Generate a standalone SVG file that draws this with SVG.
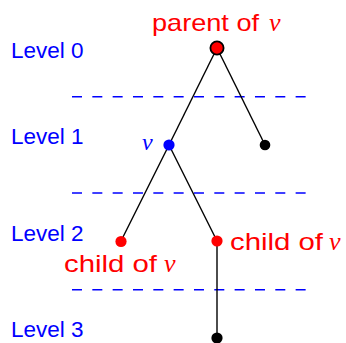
<svg xmlns="http://www.w3.org/2000/svg" width="346" height="343" viewBox="0 0 346 343">
<style>
.lvl{font-family:"Liberation Sans",Arial,sans-serif;font-size:22.5px;fill:#0000ff}
.red{font-family:"Liberation Sans",Arial,sans-serif;font-size:24px;fill:#ff0000}
.mv{font-family:"Liberation Serif","Times New Roman",serif;font-style:italic;font-size:26px}
.edge{stroke:#000;stroke-width:1.4;fill:none}
.dash{stroke:#0000ff;stroke-width:1.5;stroke-dasharray:10 10.33;fill:none}
</style>
<rect width="346" height="343" fill="#fff"/>
<g id="levels">
<line class="dash" x1="72" y1="96.7" x2="307" y2="96.7"/>
<line class="dash" x1="72" y1="193" x2="307" y2="193"/>
<line class="dash" x1="72" y1="289.7" x2="307" y2="289.7"/>
<text class="lvl" x="11" y="57.5">Level 0</text>
<text class="lvl" x="11" y="144">Level 1</text>
<text class="lvl" x="11" y="241">Level 2</text>
<text class="lvl" x="11" y="337">Level 3</text>
</g>
<g id="connectors">
<line class="edge" x1="217" y1="48" x2="169" y2="145"/>
<line class="edge" x1="217" y1="48" x2="265" y2="145"/>
<line class="edge" x1="169" y1="145" x2="121" y2="241"/>
<line class="edge" x1="169" y1="145" x2="217" y2="241"/>
<line class="edge" x1="217" y1="241" x2="217" y2="338"/>
</g>
<g id="parent">
<circle cx="217" cy="48" r="6.6" fill="#ff0000" stroke="#000" stroke-width="1.8"/>
<text class="red" x="152" y="30.5" textLength="107" lengthAdjust="spacingAndGlyphs">parent of</text>
<text class="mv" x="269" y="30.5" fill="#ff0000">v</text>
</g>
<g id="v">
<circle cx="169" cy="145" r="5.6" fill="#0000ff"/>
<text class="mv" x="142" y="150" fill="#0000ff" style="font-size:24px">v</text>
</g>
<g id="sibling">
<circle cx="265" cy="145" r="5.3" fill="#000"/>
</g>
<g id="child-left">
<circle cx="121" cy="241.5" r="5.6" fill="#ff0000"/>
<text class="red" x="64" y="271.5" textLength="93" lengthAdjust="spacingAndGlyphs">child of</text>
<text class="mv" x="164" y="271.5" fill="#ff0000">v</text>
</g>
<g id="child-right">
<circle cx="217" cy="241" r="5.6" fill="#ff0000"/>
<text class="red" x="230" y="250" textLength="93" lengthAdjust="spacingAndGlyphs">child of</text>
<text class="mv" x="329" y="250" fill="#ff0000">v</text>
</g>
<g id="grandchild">
<circle cx="217" cy="338" r="5.6" fill="#000"/>
</g>
</svg>
